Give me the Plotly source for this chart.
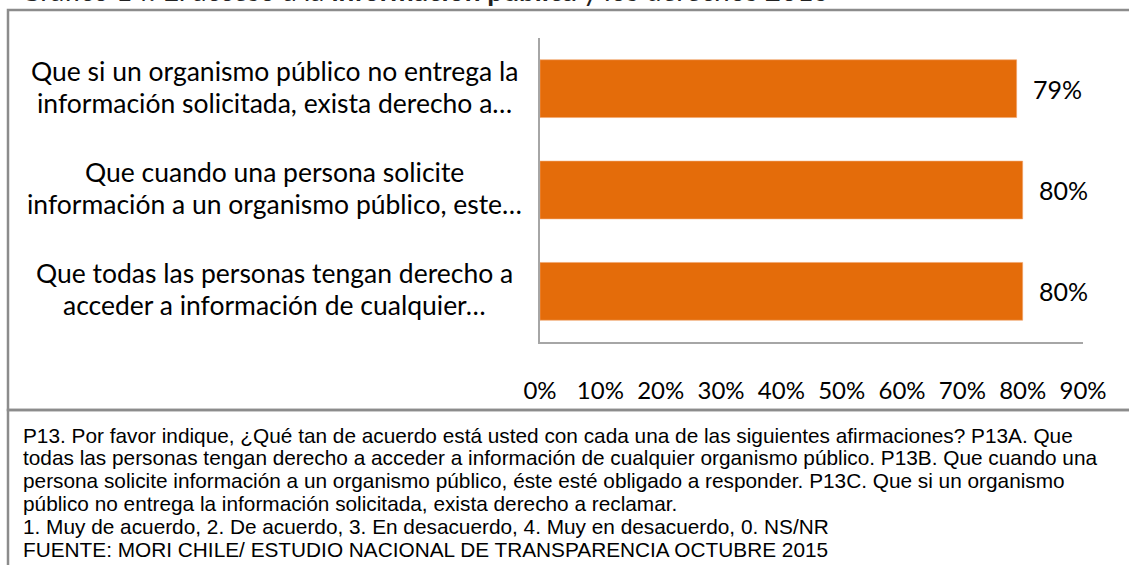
import plotly.graph_objects as go

# ---- data ----
categories = [
    "Que todas las personas tengan derecho a<br>acceder a información de cualquier…",
    "Que cuando una persona solicite<br>información a un organismo público, este…",
    "Que si un organismo público no entrega la<br>información solicitada, exista derecho a…",
]
values = [80, 80, 79]
value_labels = ["80%", "80%", "79%"]
x_ticks = [0, 10, 20, 30, 40, 50, 60, 70, 80, 90]
x_tick_labels = ["0%", "10%", "20%", "30%", "40%", "50%", "60%", "70%", "80%", "90%"]

title_text = "Gráfico 14: El acceso a la <b>información pública</b> y los derechos 2015"
note_lines = [
    "P13. Por favor indique, ¿Qué tan de acuerdo está usted con cada una de las siguientes afirmaciones? P13A. Que",
    "todas las personas tengan derecho a acceder a información de cualquier organismo público. P13B. Que cuando una",
    "persona solicite información a un organismo público, éste esté obligado a responder. P13C. Que si un organismo",
    "público no entrega la información solicitada, exista derecho a reclamar.",
    "1. Muy de acuerdo, 2. De acuerdo, 3. En desacuerdo, 4. Muy en desacuerdo, 0. NS/NR",
    "FUENTE: MORI CHILE/ ESTUDIO NACIONAL DE TRANSPARENCIA OCTUBRE 2015",
]

# ---- layout geometry (pixels) ----
W, H = 1129, 565
PL, PR, PT, PB = 540, 1083, 38, 342  # plot area


def px(xp):
    return (xp - PL) / (PR - PL)


def py(yp):
    return (PB - yp) / (PB - PT)


BAR_COLOR = "#E46C0A"
AXIS_COLOR = "#A6A6A6"
BOX_COLOR = "#8C8C8C"
LABEL_FONT = "Lato, 'Open Sans', sans-serif"

fig = go.Figure()
fig.add_trace(go.Bar(
    y=categories,
    x=values,
    orientation="h",
    width=0.57,
    marker=dict(color=BAR_COLOR, line=dict(color="#F2A46B", width=0.6)),
    hoverinfo="skip",
))

annotations = []
# value labels
for c, v, t in zip(categories, values, value_labels):
    annotations.append(dict(
        x=v, y=c, xref="x", yref="y", text=t, showarrow=False,
        xanchor="left", xshift=14, font=dict(family=LABEL_FONT, size=25, color="#000000"),
    ))
# category labels (two lines each, centered)
for i, c in enumerate(categories):
    lines = c.split("<br>")
    for j, ln in enumerate(lines):
        annotations.append(dict(
            x=px(274), y=c, xref="paper", yref="y", text=ln, showarrow=False,
            xanchor="center", yanchor="middle", yshift=18 - 32 * j,
            font=dict(family=LABEL_FONT, size=26.5, color="#000000"),
        ))
# cut-off title at very top
annotations.append(dict(
    x=px(18), y=py(9.5), xref="paper", yref="paper", text=title_text, showarrow=False,
    xanchor="left", yanchor="bottom", font=dict(family="Lato, sans-serif", size=28, color="#222222"),
))
# notes
for k, ln in enumerate(note_lines):
    annotations.append(dict(
        x=px(21), y=py(435 + 22.9 * k), xref="paper", yref="paper", text=ln, showarrow=False,
        xanchor="left", yanchor="middle",
        font=dict(family="Liberation Sans, Arial, sans-serif", size=20.8, color="#000000"),
    ))

shapes = [
    # chart box
    dict(type="rect", xref="paper", yref="paper", x0=px(8), x1=px(1140), y0=py(10), y1=py(410),
         line=dict(color=BOX_COLOR, width=2.5), layer="below"),
    # notes box
    dict(type="rect", xref="paper", yref="paper", x0=px(8), x1=px(1140), y0=py(410), y1=py(580),
         line=dict(color=BOX_COLOR, width=2.5), layer="below"),
]

fig.update_layout(
    width=W, height=H,
    margin=dict(l=PL, r=W - PR, t=PT, b=H - PB, pad=0),
    paper_bgcolor="white", plot_bgcolor="white",
    showlegend=False,
    annotations=annotations,
    shapes=shapes,
    xaxis=dict(
        range=[0, 90], tickvals=x_ticks, ticktext=x_tick_labels,
        showgrid=False, zeroline=False, showline=True, linecolor=AXIS_COLOR, linewidth=2,
        ticks="", ticklabelstandoff=26,
        tickfont=dict(family=LABEL_FONT, size=24, color="#000000"),
        fixedrange=True,
    ),
    yaxis=dict(
        categoryorder="array", categoryarray=categories,
        showticklabels=False, showgrid=False, zeroline=False,
        showline=True, linecolor=AXIS_COLOR, linewidth=2, ticks="",
        range=[-0.5, 2.5], fixedrange=True,
    ),
)

fig.write_html(
    "out.html",
    config={"displayModeBar": False},
    post_script="document.body.style.margin='0';document.body.style.overflow='hidden';",
)
